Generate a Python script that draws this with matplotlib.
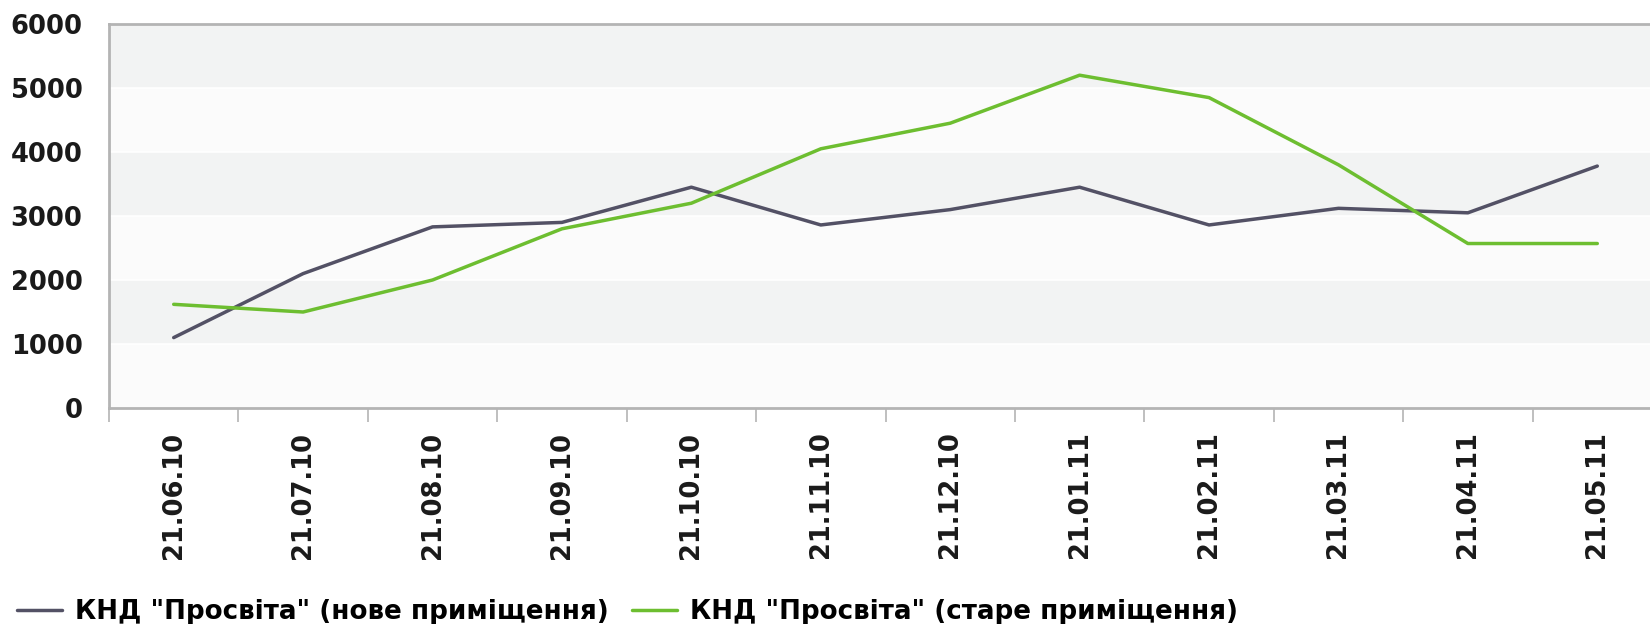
import numpy as np
import matplotlib.pyplot as plt

dates = ['21.06.10', '21.07.10', '21.08.10', '21.09.10', '21.10.10', '21.11.10',
         '21.12.10', '21.01.11', '21.02.11', '21.03.11', '21.04.11', '21.05.11']
new_room = [1100, 2100, 2830, 2900, 3450, 2860, 3100, 3450, 2860, 3120, 3050, 3780]
old_room = [1620, 1500, 2000, 2800, 3200, 4050, 4450, 5200, 4850, 3800, 2570, 2570]
labels = ['КНД "Просвіта" (нове приміщення)', 'КНД "Просвіта" (старе приміщення)']
y_ticks = [0, 1000, 2000, 3000, 4000, 5000, 6000]

GRAY_LINE = '#535165'
GREEN_LINE = '#6dbe30'
AXIS_COL = '#b4b4b4'

fig = plt.figure(figsize=(16.5, 6.24), dpi=100)
# the plot runs past the right edge of the figure, as in the original
ax = fig.add_axes([109 / 1650, 216 / 624, 1553 / 1650, 384 / 624])

# alternating background bands
for i in range(len(y_ticks) - 1):
    col = '#f2f3f3' if i % 2 == 1 else '#fbfbfb'
    ax.axhspan(y_ticks[i], y_ticks[i + 1], color=col, lw=0, zorder=0)
for y in y_ticks[1:-1]:
    ax.axhline(y, color='#ffffff', lw=1.2, zorder=0.5)

x = np.arange(len(dates))
ax.plot(x, new_room, color=GRAY_LINE, lw=2.5, solid_capstyle='round', label=labels[0], zorder=3)
ax.plot(x, old_room, color=GREEN_LINE, lw=2.5, solid_capstyle='round', label=labels[1], zorder=3)

ax.set_xlim(-0.5, len(dates) - 0.5)
ax.set_ylim(0, 6000)

ax.set_xticks(x)
ax.set_xticklabels(dates, rotation=90, fontsize=18.5, fontweight='bold', color='#1a1a1a')
ax.set_xticks(np.arange(-0.5, len(dates), 1), minor=True)
ax.tick_params(axis='x', which='major', length=0, pad=17)
ax.tick_params(axis='x', which='minor', length=10, width=1.2, color=AXIS_COL)

ax.set_yticks(y_ticks)
ax.set_yticklabels([str(v) for v in y_ticks], fontsize=18.5, fontweight='bold', color='#1a1a1a')
ax.tick_params(axis='y', length=0, pad=19)

for side in ['top', 'left', 'bottom']:
    ax.spines[side].set_color(AXIS_COL)
    ax.spines[side].set_linewidth(2)
ax.spines['right'].set_visible(False)

fig.legend(loc='center left', bbox_to_anchor=(17 / 1650, 1 - 612 / 624), ncol=2, frameon=False,
           prop={'size': 18.8, 'weight': 'bold'}, borderpad=0, borderaxespad=0,
           handlelength=1.72, handletextpad=0.5, columnspacing=0.88)

fig.savefig('out.png', dpi=100)
